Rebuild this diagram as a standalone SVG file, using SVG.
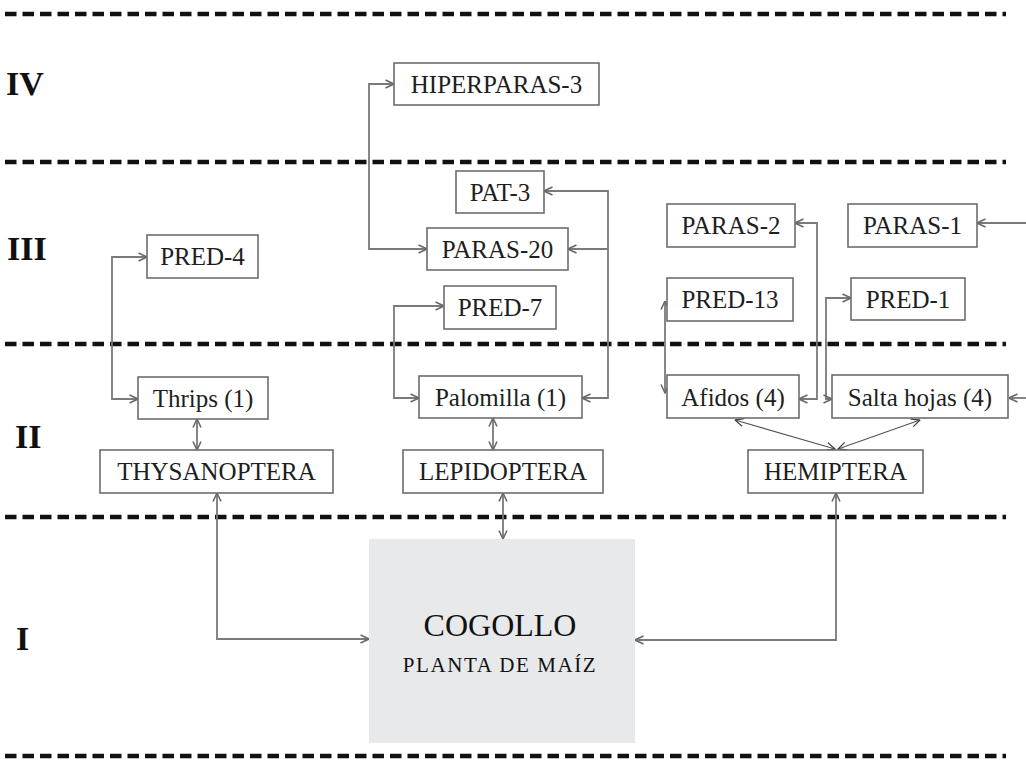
<svg xmlns="http://www.w3.org/2000/svg" width="1026" height="760" viewBox="0 0 1026 760">
<defs>
<marker id="ah" viewBox="0 0 10 10" refX="9.5" refY="5" markerWidth="10" markerHeight="10" markerUnits="userSpaceOnUse" orient="auto-start-reverse">
<path d="M1,1 L9.5,5 L1,9" fill="none" stroke="#6a6a6a" stroke-width="1.6"/>
</marker>
<marker id="ahd" viewBox="0 0 10 10" refX="9.5" refY="5" markerWidth="10" markerHeight="10" markerUnits="userSpaceOnUse" orient="auto-start-reverse">
<path d="M1,1 L9.5,5 L1,9" fill="none" stroke="#444" stroke-width="1.3"/>
</marker>
</defs>
<style>
.dash{stroke:#111;stroke-width:4.5;stroke-dasharray:11.5 6;fill:none}
.box{fill:#fff;stroke:#6d6d6d;stroke-width:1.6}
.t{font-family:"Liberation Serif","Times New Roman",serif;font-size:25px;fill:#1e1e1e;text-anchor:middle}
.rn{font-family:"Liberation Serif","Times New Roman",serif;font-size:34px;font-weight:bold;fill:#111}
.c{fill:none;stroke:#7a7a7a;stroke-width:1.8;marker-start:url(#ah);marker-end:url(#ah)}
.c1{fill:none;stroke:#7a7a7a;stroke-width:1.8;marker-end:url(#ah)}
.cd{fill:none;stroke:#555;stroke-width:1.2;marker-start:url(#ahd);marker-end:url(#ahd)}
</style>
<rect width="1026" height="760" fill="#fff"/>
<g id="levels">
<line class="dash" x1="5" y1="14" x2="1006" y2="14"/>
<line class="dash" x1="5" y1="162" x2="1006" y2="162"/>
<line class="dash" x1="5" y1="344" x2="1006" y2="344"/>
<line class="dash" x1="5" y1="517" x2="1006" y2="517"/>
<line class="dash" x1="5" y1="756" x2="1006" y2="756"/>
<text class="rn" x="6" y="95">IV</text>
<text class="rn" x="7" y="260">III</text>
<text class="rn" x="15" y="448">II</text>
<text class="rn" x="16" y="650">I</text>
</g>
<g id="connectors">
<path class="c" d="M427,249 H369 V84 H394"/>
<path class="c" d="M544,191 H608 V398 H582"/>
<path class="c1" d="M608,249 H568"/>
<path class="c" d="M444,306 H394 V398 H419"/>
<path class="c" d="M147,257 H112 V399 H138"/>
<path class="c" d="M197,419 V450"/>
<path class="c" d="M493,418 V450"/>
<path class="c" d="M503,493 V539"/>
<path class="c" d="M217,493 V639 H369"/>
<path class="c" d="M836,493 V640 H635"/>
<path class="c1" d="M1026,223 H977"/>
<path class="c1" d="M1026,398 H1009"/>
<path class="c" d="M795,223 H817 V399 H799"/>
<path class="c" d="M851,298 H826 V399 H832"/>
<path class="c" d="M665,393 V301"/>
<path class="cd" d="M735,420 L835,449"/>
<path class="cd" d="M920,420 L838,449"/>
</g>
<g id="cogollo">
<rect x="369" y="539" width="266" height="204" fill="#e8e9eb"/>
<text x="500" y="636" font-family="Liberation Serif, Times New Roman, serif" font-size="32" fill="#111" text-anchor="middle">COGOLLO</text>
<text x="500" y="672" font-family="Liberation Serif, Times New Roman, serif" font-size="21" letter-spacing="1.6" fill="#111" text-anchor="middle">PLANTA DE MAÍZ</text>
</g>
<g id="hiperparas3"><rect class="box" x="394" y="63" width="205" height="42"/><text class="t" x="496.5" y="93">HIPERPARAS-3</text></g>
<g id="pat3"><rect class="box" x="456" y="171" width="88" height="42"/><text class="t" x="500" y="201">PAT-3</text></g>
<g id="paras20"><rect class="box" x="427" y="228" width="141" height="42"/><text class="t" x="497.5" y="258">PARAS-20</text></g>
<g id="pred7"><rect class="box" x="444" y="286" width="112" height="43"/><text class="t" x="500" y="316">PRED-7</text></g>
<g id="pred4"><rect class="box" x="147" y="235" width="111" height="43"/><text class="t" x="202.5" y="265">PRED-4</text></g>
<g id="paras2"><rect class="box" x="667" y="204" width="128" height="43"/><text class="t" x="731" y="234">PARAS-2</text></g>
<g id="paras1"><rect class="box" x="848" y="204" width="129" height="43"/><text class="t" x="912.5" y="234">PARAS-1</text></g>
<g id="pred13"><rect class="box" x="667" y="278" width="126" height="43"/><text class="t" x="730" y="308">PRED-13</text></g>
<g id="pred1"><rect class="box" x="851" y="278" width="114" height="42"/><text class="t" x="908" y="308">PRED-1</text></g>
<g id="thrips"><rect class="box" x="138" y="377" width="130" height="42"/><text class="t" x="203" y="407">Thrips (1)</text></g>
<g id="palomilla"><rect class="box" x="419" y="376" width="163" height="42"/><text class="t" x="500.5" y="406">Palomilla (1)</text></g>
<g id="afidos"><rect class="box" x="667" y="375" width="132" height="43"/><text class="t" x="733" y="406">Afidos (4)</text></g>
<g id="saltahojas"><rect class="box" x="832" y="375" width="176" height="43"/><text class="t" x="920" y="406">Salta hojas (4)</text></g>
<g id="thysanoptera"><rect class="box" x="100" y="450" width="233" height="43"/><text class="t" x="216.5" y="480">THYSANOPTERA</text></g>
<g id="lepidoptera"><rect class="box" x="403" y="450" width="200" height="43"/><text class="t" x="503" y="480">LEPIDOPTERA</text></g>
<g id="hemiptera"><rect class="box" x="748" y="450" width="175" height="43"/><text class="t" x="835.5" y="480">HEMIPTERA</text></g>
</svg>
